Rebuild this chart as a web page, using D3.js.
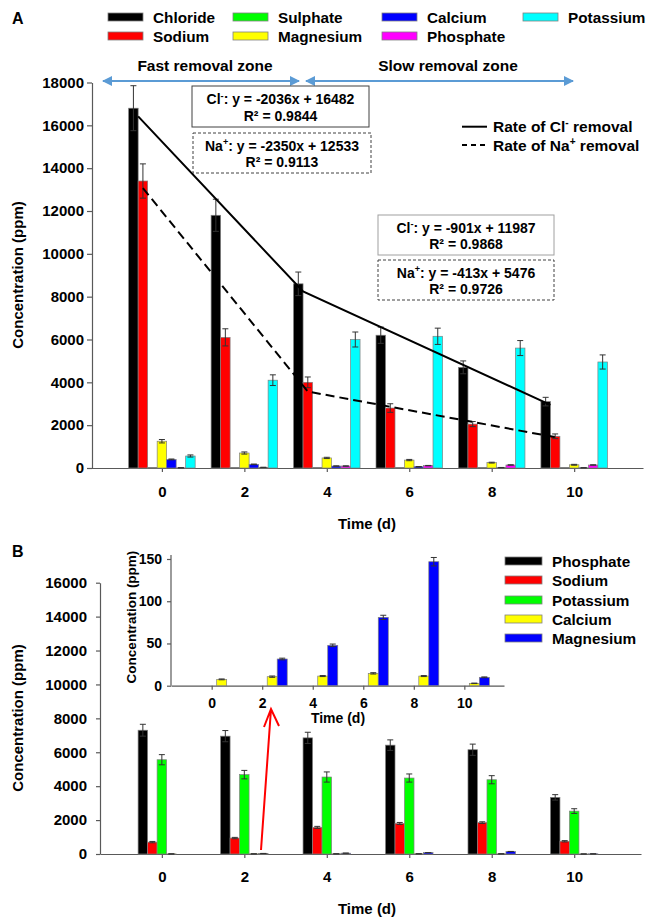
<!DOCTYPE html>
<html><head><meta charset="utf-8">
<script src="https://cdn.jsdelivr.net/npm/d3@7"></script>
<style>
body{margin:0;background:#fff}
svg{display:block}
text{font-family:"Liberation Sans",Arial,Helvetica,sans-serif;font-weight:bold;fill:#000}
</style>
</head><body><svg id="c" width="651" height="917"></svg>
<script>
// ---------------- DATA ----------------
const days = [0, 2, 4, 6, 8, 10];

// Panel A
const seriesA = ["Chloride", "Sodium", "Sulphate", "Magnesium", "Calcium", "Phosphate", "Potassium"];
const colorsA = ["#000000", "#ff0000", "#00ff00", "#ffff00", "#0000ff", "#ff00ff", "#00ffff"];
const chlorideA = [16800, 11800, 8600, 6200, 4700, 3100];
const chlorideErrA = [1050, 750, 550, 380, 300, 200];
const sodiumA = [13400, 6100, 4000, 2800, 2050, 1480];
const sodiumErrA = [800, 400, 250, 200, 120, 110];
const sulphateA = [20, 20, 20, 20, 20, 20];
const sulphateErrA = [0, 0, 0, 0, 0, 0];
const magnesiumA = [1250, 700, 470, 370, 250, 150];
const magnesiumErrA = [80, 50, 30, 30, 20, 20];
const calciumA = [400, 170, 90, 60, 20, 10];
const calciumErrA = [20, 15, 10, 10, 5, 5];
const phosphateA = [10, 30, 90, 110, 140, 140];
const phosphateErrA = [5, 5, 10, 10, 10, 10];
const potassiumA = [560, 4100, 6000, 6150, 5600, 4950];
const potassiumErrA = [50, 250, 350, 380, 350, 330];
const yTicksA = [0, 2000, 4000, 6000, 8000, 10000, 12000, 14000, 16000, 18000];

// Fitted removal-rate lines
const clFitDays = [0, 4, 10];
const clFitVals = [16420, 8240, 2950];
const naFitDays = [0, 4, 10];
const naFitVals = [13070, 3570, 1440];

// Panel B
const seriesB = ["Phosphate", "Sodium", "Potassium", "Calcium", "Magnesium"];
const colorsB = ["#000000", "#ff0000", "#00ff00", "#ffff00", "#0000ff"];
const phosphateB = [7300, 6950, 6850, 6420, 6150, 3340];
const phosphateErrB = [350, 330, 330, 310, 330, 160];
const sodiumB = [700, 940, 1570, 1800, 1850, 750];
const sodiumErrB = [40, 40, 60, 60, 50, 40];
const potassiumB = [5560, 4680, 4540, 4480, 4380, 2530];
const potassiumErrB = [300, 250, 300, 240, 240, 140];
const calciumB = [7.5, 10.7, 11.4, 14.6, 11.4, 2.8];
const calciumErrB = [0.5, 0.8, 0.6, 0.8, 0.6, 0.3];
const magnesiumB = [0, 31.6, 47.8, 80.9, 146.8, 9.9];
const magnesiumErrB = [0, 1, 1.5, 2.5, 5, 0.5];
const yTicksB = [0, 2000, 4000, 6000, 8000, 10000, 12000, 14000, 16000];
const yTicksInset = [0, 50, 100, 150];

// ---------------- DRAW ----------------
const svg = d3.select("#c");
const FONT = '"Liberation Sans",Arial,Helvetica,sans-serif';
const AX = "#595959";

function styleAxis(g, size) {
  g.select(".domain").attr("stroke", AX).attr("stroke-width", 1.2);
  g.selectAll(".tick line").attr("stroke", AX).attr("stroke-width", 1.2);
  g.selectAll("text").style("font-size", size + "px").style("font-weight", "bold").style("font-family", FONT).style("fill", "#000");
}

function richText(parent, x, y, parts, size, anchor) {
  const t = parent.append("text").attr("x", x).attr("y", y).attr("text-anchor", anchor || "middle")
    .style("font-size", size + "px");
  let shifted = false;
  parts.forEach(p => {
    const ts = t.append("tspan").text(p.t);
    if (p.sup) { ts.attr("dy", -size * 0.38).style("font-size", (size * 0.65) + "px"); shifted = true; }
    else if (shifted) { ts.attr("dy", size * 0.38); shifted = false; }
  });
  return t;
}

function drawBars(g, xs, ys, valsList, errList, colors, slots, bw, nSlots) {
  valsList.forEach((vals, k) => {
    const slot = slots[k];
    const data = days.map((d, j) => ({ d, v: vals[j], e: errList[k][j] }));
    g.append("g").selectAll("rect").data(data.filter(o => o.v > 0)).join("rect")
      .attr("x", o => xs(o.d) - nSlots * bw / 2 + slot * bw)
      .attr("y", o => ys(o.v))
      .attr("width", bw)
      .attr("height", o => ys(0) - ys(o.v))
      .attr("fill", colors[k])
      .attr("stroke", "#808080").attr("stroke-width", 0.7);
  });
  valsList.forEach((vals, k) => {
    const slot = slots[k];
    const data = days.map((d, j) => ({ d, v: vals[j], e: errList[k][j] })).filter(o => o.e > 0 && o.v > 0);
    const eg = g.append("g").attr("stroke", "#333").attr("stroke-width", 1);
    data.forEach(o => {
      const cx = xs(o.d) - nSlots * bw / 2 + slot * bw + bw / 2;
      const y1 = ys(o.v + o.e), y2 = ys(Math.max(0, o.v - o.e));
      eg.append("line").attr("x1", cx).attr("x2", cx).attr("y1", y1).attr("y2", y2);
      eg.append("line").attr("x1", cx - 3).attr("x2", cx + 3).attr("y1", y1).attr("y2", y1);
      eg.append("line").attr("x1", cx - 3).attr("x2", cx + 3).attr("y1", y2).attr("y2", y2);
    });
  });
}

// ===== PANEL A =====
const xA = d3.scaleLinear().domain([-1.72, 11.67]).range([91, 643]);
const yA = d3.scaleLinear().domain([0, 18000]).range([468, 82.5]);
const bwA = 9.5;

svg.append("text").attr("x", 12).attr("y", 24).style("font-size", "16px").text("A");

// top legend
const legColX = [108, 233, 382, 523];
const legRowY = [17, 36];
seriesA.forEach((s, i) => {
  const cx = legColX[Math.floor(i / 2)], cy = legRowY[i % 2];
  svg.append("rect").attr("x", cx).attr("y", cy - 4).attr("width", 35).attr("height", 8)
    .attr("fill", colorsA[i]).attr("stroke", "#808080").attr("stroke-width", 0.8);
  svg.append("text").attr("x", cx + 45).attr("y", cy + 5.5).style("font-size", "15.3px").text(s);
});

// zone arrows
const defs = svg.append("defs");
defs.append("marker").attr("id", "ah").attr("viewBox", "0 0 10 10").attr("refX", 9).attr("refY", 5)
  .attr("markerWidth", 5).attr("markerHeight", 5).attr("orient", "auto-start-reverse")
  .attr("markerUnits", "strokeWidth")
  .append("path").attr("d", "M0,0 L10,5 L0,10 Z").attr("fill", "#5b9bd5");
[[103, 299], [306, 573]].forEach(([a, b]) => {
  svg.append("line").attr("x1", a).attr("x2", b).attr("y1", 81).attr("y2", 81)
    .attr("stroke", "#5b9bd5").attr("stroke-width", 2)
    .attr("marker-start", "url(#ah)").attr("marker-end", "url(#ah)");
});
svg.append("text").attr("x", 205).attr("y", 70.5).attr("text-anchor", "middle").style("font-size", "15.5px").text("Fast removal zone");
svg.append("text").attr("x", 448).attr("y", 70.5).attr("text-anchor", "middle").style("font-size", "15.5px").text("Slow removal zone");

// axes A
const gyA = svg.append("g").attr("transform", "translate(92,0)")
  .call(d3.axisLeft(yA).tickValues(yTicksA).tickSize(5).tickSizeOuter(0).tickPadding(3).tickFormat(d3.format("d")));
styleAxis(gyA, 15);
const gxA = svg.append("g").attr("transform", "translate(0,468)")
  .call(d3.axisBottom(xA).tickValues(days).tickSize(4).tickSizeOuter(0).tickPadding(14));
styleAxis(gxA, 15);
svg.append("text").attr("transform", "translate(23,275) rotate(-90)").attr("text-anchor", "middle")
  .style("font-size", "15px").text("Concentration (ppm)");
svg.append("text").attr("x", 367).attr("y", 529).attr("text-anchor", "middle").style("font-size", "15px").text("Time (d)");

const barsA = svg.append("g");
drawBars(barsA, xA, yA,
  [chlorideA, sodiumA, sulphateA, magnesiumA, calciumA, phosphateA, potassiumA],
  [chlorideErrA, sodiumErrA, sulphateErrA, magnesiumErrA, calciumErrA, phosphateErrA, potassiumErrA],
  colorsA, [0, 1, 2, 3, 4, 5, 6], bwA, 7);

// fit lines
const clLine = d3.line().x((d, i) => xA(clFitDays[i]) - 3.5 * bwA + 1 * bwA).y(d => yA(d));
svg.append("path").attr("d", clLine(clFitVals)).attr("fill", "none").attr("stroke", "#000").attr("stroke-width", 2);
const naLine = d3.line().x((d, i) => xA(naFitDays[i]) - 2 * bwA).y(d => yA(d));
svg.append("path").attr("d", naLine(naFitVals)).attr("fill", "none").attr("stroke", "#000").attr("stroke-width", 2)
  .attr("stroke-dasharray", "9,5");

// line legend
svg.append("line").attr("x1", 462).attr("x2", 487).attr("y1", 126.7).attr("y2", 126.7).attr("stroke", "#000").attr("stroke-width", 2);
svg.append("line").attr("x1", 462).attr("x2", 487).attr("y1", 145).attr("y2", 145).attr("stroke", "#000").attr("stroke-width", 2).attr("stroke-dasharray", "5,4");
richText(svg, 493, 132, [{ t: "Rate of Cl" }, { t: "-", sup: true }, { t: " removal" }], 15.5, "start");
richText(svg, 493, 150.5, [{ t: "Rate of Na" }, { t: "+", sup: true }, { t: " removal" }], 15.5, "start");

// equation boxes
function eqBox(x0, y0, x1, y1, dashed, stroke, ion, eq, r2) {
  svg.append("rect").attr("x", x0).attr("y", y0).attr("width", x1 - x0).attr("height", y1 - y0)
    .attr("fill", "#fff").attr("stroke", stroke).attr("stroke-width", 1)
    .attr("stroke-dasharray", dashed ? "3,2" : null);
  const cx = (x0 + x1) / 2, h = y1 - y0;
  richText(svg, cx, y0 + h * 0.32 + 5, [{ t: ion[0] }, { t: ion[1], sup: true }, { t: eq }], 14);
  svg.append("text").attr("x", cx).attr("y", y0 + h * 0.73 + 5).attr("text-anchor", "middle").style("font-size", "14px").text(r2);
}
eqBox(192, 86, 369, 127, false, "#404040", ["Cl", "-"], ": y = -2036x + 16482", "R² = 0.9844");
eqBox(193, 133, 371, 173, true, "#404040", ["Na", "+"], ": y = -2350x + 12533", "R² = 0.9113");
eqBox(378, 215, 554, 255, false, "#a0a0a0", ["Cl", "-"], ": y = -901x + 11987", "R² = 0.9868");
eqBox(378, 260, 554, 300, true, "#404040", ["Na", "+"], ": y = -413x + 5476", "R² = 0.9726");

// ===== PANEL B =====
const xB = d3.scaleLinear().domain([-1.5, 11.62]).range([100, 641]);
const yB = d3.scaleLinear().domain([0, 16000]).range([854, 582.7]);
const bwB = 9.5;

svg.append("text").attr("x", 12).attr("y", 557).style("font-size", "16px").text("B");

const gyB = svg.append("g").attr("transform", "translate(100,0)")
  .call(d3.axisLeft(yB).tickValues(yTicksB).tickSize(4).tickSizeOuter(0).tickPadding(9).tickFormat(d3.format("d")));
styleAxis(gyB, 15);
const gxB = svg.append("g").attr("transform", "translate(0,854)")
  .call(d3.axisBottom(xB).tickValues(days).tickSize(4).tickSizeOuter(0).tickPadding(13));
styleAxis(gxB, 15);
svg.append("text").attr("transform", "translate(23,718) rotate(-90)").attr("text-anchor", "middle")
  .style("font-size", "15px").text("Concentration (ppm)");
svg.append("text").attr("x", 367).attr("y", 914).attr("text-anchor", "middle").style("font-size", "15px").text("Time (d)");

const barsB = svg.append("g");
drawBars(barsB, xB, yB,
  [phosphateB, sodiumB, potassiumB, calciumB, magnesiumB],
  [phosphateErrB, sodiumErrB, potassiumErrB, calciumErrB, magnesiumErrB],
  colorsB, [0, 1, 2, 3, 4], bwB, 5);

// legend B
const legBY = [561, 580, 600, 619, 638];
seriesB.forEach((s, i) => {
  svg.append("rect").attr("x", 505).attr("y", legBY[i] - 4).attr("width", 37).attr("height", 8)
    .attr("fill", colorsB[i]).attr("stroke", "#808080").attr("stroke-width", 0.8);
  svg.append("text").attr("x", 552).attr("y", legBY[i] + 5.5).style("font-size", "15.3px").text(s);
});

// inset
const xI = d3.scaleLinear().domain([-1.61, 11.57]).range([171, 504]);
const yI = d3.scaleLinear().domain([0, 150]).range([685.7, 559]);
const gyI = svg.append("g").attr("transform", "translate(171,0)")
  .call(d3.axisLeft(yI).tickValues(yTicksInset).tickSize(4).tickSizeOuter(0).tickPadding(5));
styleAxis(gyI, 14);
gyI.select(".domain").attr("d", "M0,555V685.7");
const gxI = svg.append("g").attr("transform", "translate(0,685.7)")
  .call(d3.axisBottom(xI).tickValues(days).tickSize(4).tickSizeOuter(0).tickPadding(8));
styleAxis(gxI, 14);
svg.append("text").attr("transform", "translate(136,617) rotate(-90)").attr("text-anchor", "middle")
  .style("font-size", "13.5px").text("Concentration (ppm)");
svg.append("text").attr("x", 338).attr("y", 723).attr("text-anchor", "middle").style("font-size", "14px").text("Time (d)");
const barsI = svg.append("g");
drawBars(barsI, xI, yI, [calciumB, magnesiumB], [calciumErrB, magnesiumErrB],
  ["#ffff00", "#0000ff"], [3, 4], 10, 5);

// red arrow
svg.append("path").attr("d", "M261,850 L271,709 M264,727 L271,709 L279,726")
  .attr("fill", "none").attr("stroke", "#ff0000").attr("stroke-width", 2);
</script>
</body></html>
